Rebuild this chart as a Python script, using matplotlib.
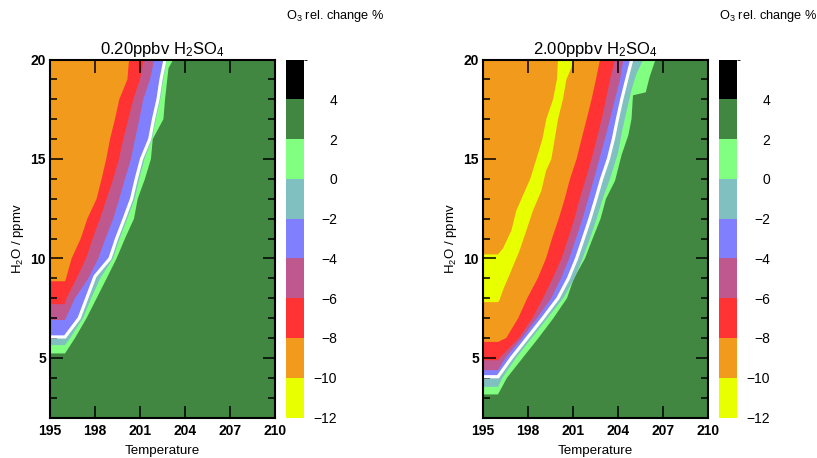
import numpy as np
import matplotlib as mpl
import matplotlib.pyplot as plt
from matplotlib.colors import ListedColormap, BoundaryNorm

plt.rcParams['font.family'] = ['Liberation Sans', 'DejaVu Sans']
plt.rcParams['mathtext.fontset'] = 'custom'
plt.rcParams['mathtext.rm'] = 'Liberation Sans'
plt.rcParams['mathtext.it'] = 'Liberation Sans:italic'

# colour levels of the O3 relative change (%)
levels = [-12, -10, -8, -6, -4, -2, 0, 2, 4, 6]
band_colors = ['#e8ff00', '#f29a1c', '#ff3333', '#c05890', '#8080ff',
               '#80c0c0', '#80ff80', '#418641', '#000000']

# contour boundaries: (temperature K, H2O ppmv),
# from the top edge down to the left edge. region left of each one is
# below that level.

# ---- 0.20 ppbv H2SO4 ----
lo_m8 = [(200.27, 20), (200.16, 19), (199.62, 18), (199.33, 17), (199.0, 16),
         (198.75, 15), (198.44, 14), (198.11, 13), (197.49, 12), (197.05, 11),
         (196.44, 10), (196.07, 9), (196.0, 8.85), (195, 8.85)]
lo_m6 = [(201.25, 20), (201.0, 19), (200.56, 18), (200.22, 17), (199.89, 16),
         (199.6, 15), (199.22, 14), (198.78, 13), (198.33, 12), (197.85, 11),
         (197.4, 10), (196.78, 9), (196.1, 8), (196.0, 7.7), (195, 7.7)]
lo_m4 = [(201.95, 20), (201.67, 19), (201.22, 18), (200.96, 17), (200.67, 16),
         (200.4, 15), (200.0, 14), (199.62, 13), (199.22, 12), (198.7, 11),
         (198.22, 10), (197.56, 9), (196.67, 8), (196.0, 6.9), (195, 6.9)]
lo_m2 = [(202.67, 20), (202.4, 19), (202.2, 18), (201.9, 17), (201.65, 16),
         (201.1, 15), (200.75, 14), (200.44, 13), (199.95, 12), (199.44, 11),
         (199.0, 10), (198.0, 9.1), (197.45, 8), (196.95, 7), (196.0, 6.05),
         (195, 6.05)]
lo_0 = [(202.8, 20), (202.55, 19), (202.35, 18), (202.05, 17), (201.8, 16),
        (201.3, 15), (200.95, 14), (200.65, 13), (200.15, 12), (199.65, 11),
        (199.2, 10), (198.35, 9), (197.75, 8), (197.2, 7), (196.35, 6),
        (196.0, 5.64), (195, 5.64)]
lo_p2 = [(203.22, 20), (202.9, 19.56), (202.67, 18), (202.56, 17), (201.85, 16),
         (201.73, 15), (201.33, 14), (200.85, 13), (200.6, 12), (200.0, 11),
         (199.44, 10), (198.78, 9), (198.11, 8), (197.44, 7), (196.67, 6),
         (196.0, 5.22), (195, 5.22)]

# ---- 2.00 ppbv H2SO4 ----
hi_yel_left = [(200.0, 20), (199.93, 19), (199.67, 18), (199.22, 17), (198.96, 16),
               (198.56, 15), (198.15, 14), (197.8, 13.4), (197.22, 12.4),
               (196.89, 11.4), (196.33, 10.5), (196.0, 10.2), (195, 10.2)]
hi_yel_right = [(201.0, 20), (200.9, 19.6), (200.56, 19), (200.33, 18), (200.0, 17),
                (199.78, 16), (199.56, 15), (199.2, 14.4), (198.89, 13.4),
                (198.33, 12.4), (197.89, 11.4), (197.44, 10.4), (196.89, 9.4),
                (196.33, 8.4), (196.1, 7.9), (196.0, 7.8), (195, 7.8)]
hi_m8 = [(202.8, 20), (202.53, 19), (202.24, 18), (201.91, 17), (201.57, 16),
         (201.24, 15), (200.8, 14), (200.45, 13), (200.05, 12), (199.6, 11),
         (199.2, 10), (198.65, 9), (197.95, 8), (197.35, 7), (196.55, 6),
         (196.0, 5.8), (195, 5.8)]
hi_m6 = [(203.8, 20), (203.47, 19), (203.2, 18), (202.91, 17), (202.58, 16),
         (202.24, 15), (201.85, 14), (201.45, 13), (201.1, 12), (200.68, 11),
         (200.24, 10), (199.65, 9), (199.0, 8), (198.3, 7), (197.4, 6),
         (196.11, 5), (196.0, 4.88), (195, 4.88)]
hi_m4 = [(204.36, 20), (204.14, 19), (203.8, 18), (203.47, 17), (203.13, 16),
         (202.76, 15), (202.4, 14), (202.02, 13), (201.64, 12), (201.2, 11),
         (200.75, 10), (200.2, 9), (199.55, 8), (198.6, 7), (197.6, 6),
         (196.5, 5), (196.0, 4.38), (195, 4.38)]
hi_m2 = [(204.92, 20), (204.58, 19), (204.25, 18), (203.96, 17), (203.69, 16),
         (203.36, 15), (202.91, 14), (202.53, 13), (202.13, 12), (201.69, 11),
         (201.24, 10), (200.7, 9), (200.0, 8), (199.0, 7), (197.95, 6),
         (196.9, 5), (196.0, 4.05), (195, 4.05)]
hi_0 = [(205.69, 20), (205.24, 19.3), (204.91, 18.5), (204.6, 17.5), (204.3, 16.5),
        (204.0, 15.3), (203.47, 14), (202.98, 13), (202.58, 12), (202.13, 11),
        (201.64, 10), (201.1, 9), (200.35, 8), (199.3, 7), (198.25, 6),
        (197.2, 5), (196.3, 4), (196.0, 3.54), (195, 3.54)]
hi_p2 = [(206.5, 20), (206.1, 19.1), (205.85, 18.35), (205.0, 18.2), (204.9, 17),
         (204.69, 16.2), (204.24, 15.2), (203.8, 13.9), (203.2, 13), (202.84, 12),
         (202.31, 11), (201.8, 10), (201.06, 9), (200.6, 8), (199.7, 7),
         (198.7, 6), (197.65, 5), (196.6, 4), (196.0, 3.16), (195, 3.16)]

panels = [
    ('0.20ppbv H$_2$SO$_4$', [lo_p2, lo_0, lo_m2, lo_m4, lo_m6, lo_m8], lo_m2, None),
    ('2.00ppbv H$_2$SO$_4$', [hi_p2, hi_0, hi_m2, hi_m4, hi_m6, hi_m8], hi_m2,
     (hi_yel_left, hi_yel_right)),
]
fill_colors = ['#80ff80', '#80c0c0', '#8080ff', '#c05890', '#ff3333', '#f29a1c']

W, H = 817, 458
fig = plt.figure(figsize=(W / 100, H / 100), dpi=100)

cmap = ListedColormap(band_colors)
norm = BoundaryNorm(levels, cmap.N)

for i, (title, bounds, white, yellow) in enumerate(panels):
    x0 = [50, 483][i]
    ax = fig.add_axes([x0 / W, 1 - 417.5 / H, 225 / W, 358 / H])
    ax.set_facecolor('#418641')
    for pts, c in zip(bounds, fill_colors):
        t, h = zip(*pts)
        ax.fill(list(t) + [195], list(h) + [20], color=c, lw=0)
    if yellow is not None:
        pts = yellow[0] + yellow[1][::-1]
        t, h = zip(*pts)
        ax.fill(t, h, color='#e8ff00', lw=0)
    t, h = zip(*white)
    ax.plot(t, h, color='white', lw=2.3, solid_joinstyle='miter')

    ax.set_xlim(195, 210)
    ax.set_ylim(2, 20)
    ax.set_xticks(np.arange(195, 211, 3))
    ax.set_yticks([5, 10, 15, 20])
    ax.set_yticks(np.arange(3, 20), minor=True)
    ax.tick_params(which='both', direction='in', top=True, right=True,
                   width=1.1, color='black', labelsize=10)
    ax.tick_params(which='major', length=9)
    ax.tick_params(which='minor', length=5)
    ax.tick_params(axis='x', pad=5)
    ax.tick_params(axis='y', pad=3)
    plt.setp(ax.get_xticklabels() + ax.get_yticklabels(), fontweight='bold')
    for s in ax.spines.values():
        s.set_linewidth(1.5)
    ax.set_title(title, fontsize=12, pad=4)
    ax.set_xlabel('Temperature', fontsize=9.6, va='center')
    ax.xaxis.set_label_coords(0.5, (417.5 - 451) / 358)
    ax.set_ylabel('H$_2$O / ppmv', fontsize=9.5, va='center')
    ax.yaxis.set_label_coords(-32 / 225, 0.5)

    cx = [286, 719][i]
    cax = fig.add_axes([cx / W, 1 - 417.5 / H, 18 / W, 358 / H])
    cb = fig.colorbar(mpl.cm.ScalarMappable(norm=norm, cmap=cmap), cax=cax,
                      ticks=levels[:-1])
    cb.outline.set_visible(False)
    cax.tick_params(length=0, pad=24, labelsize=10)
    plt.setp(cax.get_yticklabels(), ha='right')

    fig.text(cx / W, 1 - 16 / H, 'O$_3$ rel. change %', fontsize=9.2,
             ha='left', va='center')

fig.savefig('out.png', dpi=100)
